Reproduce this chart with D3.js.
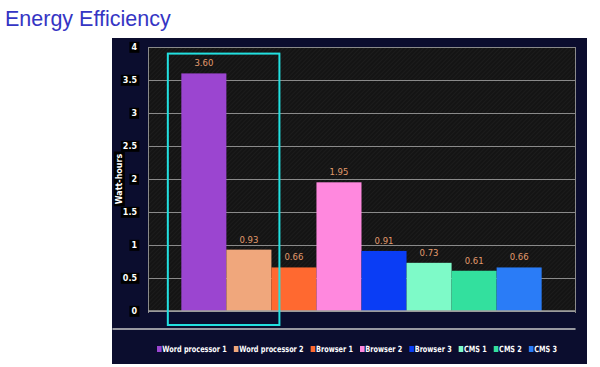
<!DOCTYPE html>
<html>
<head>
<meta charset="utf-8">
<script src="https://cdn.jsdelivr.net/npm/d3@7"></script>
<style>
  body { margin: 0; background: #fff; }
  svg { display: block; }
</style>
</head>
<body>
<div id="chart"></div>
<script>
// data
var categories = ["Word processor 1", "Word processor 2", "Browser 1", "Browser 2", "Browser 3", "CMS 1", "CMS 2", "CMS 3"];
var values = [3.60, 0.93, 0.66, 1.95, 0.91, 0.73, 0.61, 0.66];
var colors = ["#9b45d0", "#f0a77c", "#ff6930", "#ff88de", "#0a3df5", "#7efac8", "#33e09e", "#2a7cf7"];
var yTicks = [0, 0.5, 1, 1.5, 2, 2.5, 3, 3.5, 4];

var W = 600, H = 367;
var plot = {left: 148, right: 575, top: 47, bottom: 311};

var svg = d3.select("#chart").append("svg")
  .attr("width", W)
  .attr("height", H);

// title
svg.append("text")
  .attr("x", 5)
  .attr("y", 26)
  .style("font-family", "Liberation Sans, Arial, sans-serif")
  .style("font-size", "21.5px")
  .style("fill", "#3535c4")
  .text("Energy Efficiency");

// hatch pattern for plot background
var defs = svg.append("defs");
var pat = defs.append("pattern")
  .attr("id", "hatch")
  .attr("width", 3)
  .attr("height", 3)
  .attr("patternUnits", "userSpaceOnUse")
  .attr("patternTransform", "rotate(45)");
pat.append("rect").attr("width", 3).attr("height", 3).attr("fill", "#141414");
pat.append("line").attr("x1", 0).attr("y1", 0).attr("x2", 0).attr("y2", 3)
  .attr("stroke", "#232323").attr("stroke-width", 1);

// navy panel
svg.append("rect")
  .attr("x", 112)
  .attr("y", 38)
  .attr("width", 475)
  .attr("height", 326)
  .attr("fill", "#0b0d2e");

// scales
var x = d3.scaleBand()
  .domain(categories)
  .range([plot.left, plot.right])
  .paddingInner(0)
  .paddingOuter(0.74);

var y = d3.scaleLinear()
  .domain([0, 4])
  .range([plot.bottom, plot.top]);

// plot background
svg.append("rect")
  .attr("x", plot.left)
  .attr("y", plot.top)
  .attr("width", plot.right - plot.left)
  .attr("height", plot.bottom - plot.top)
  .attr("fill", "url(#hatch)");

// gridlines
svg.append("g")
  .attr("class", "grid")
  .attr("transform", "translate(" + plot.left + ",0)")
  .call(d3.axisLeft(y)
    .tickValues(yTicks)
    .tickSize(-(plot.right - plot.left))
    .tickFormat("")
  );
svg.selectAll(".grid line")
  .style("stroke", "#8a8a8a")
  .style("stroke-width", 1)
  .style("shape-rendering", "crispEdges");
svg.selectAll(".grid path").remove();

// frame lines (left and right)
svg.append("line")
  .attr("x1", plot.left).attr("x2", plot.left)
  .attr("y1", plot.top).attr("y2", plot.bottom + 2)
  .attr("stroke", "#8a8a8a").style("shape-rendering", "crispEdges");
svg.append("line")
  .attr("x1", plot.right).attr("x2", plot.right)
  .attr("y1", plot.top).attr("y2", plot.bottom + 2)
  .attr("stroke", "#8a8a8a").style("shape-rendering", "crispEdges");

// y tick labels in black boxes
var yLab = svg.append("g").selectAll("g")
  .data(yTicks)
  .enter().append("g")
  .attr("transform", function(d) { return "translate(137," + y(d) + ")"; });
yLab.append("text")
  .attr("text-anchor", "end")
  .attr("dy", "0.35em")
  .style("font-family", "DejaVu Sans, sans-serif")
  .style("font-weight", "bold")
  .style("font-size", "8px")
  .style("fill", "#ffffff")
  .text(function(d) { return d; });
yLab.each(function() {
  var g = d3.select(this);
  var bb = g.select("text").node().getBBox();
  g.insert("rect", "text")
    .attr("x", bb.x - 2)
    .attr("y", bb.y - 1)
    .attr("width", bb.width + 4)
    .attr("height", bb.height + 2)
    .attr("fill", "#000");
});

// y axis title
var yt = svg.append("g")
  .attr("transform", "translate(119," + y(2) + ") rotate(-90)");
yt.append("text")
  .attr("text-anchor", "middle")
  .attr("dy", "0.35em")
  .style("font-family", "DejaVu Sans, sans-serif")
  .style("font-weight", "bold")
  .style("font-size", "8px")
  .style("fill", "#ffffff")
  .text("Watt-hours");
var ybb = yt.select("text").node().getBBox();
yt.insert("rect", "text")
  .attr("x", ybb.x - 2).attr("y", ybb.y - 1)
  .attr("width", ybb.width + 4).attr("height", ybb.height + 2)
  .attr("fill", "#000");

// bars
svg.append("g").selectAll("rect")
  .data(values)
  .enter().append("rect")
  .attr("x", function(d, i) { return x(categories[i]); })
  .attr("y", function(d) { return y(d); })
  .attr("width", x.bandwidth())
  .attr("height", function(d) { return y(0) - y(d); })
  .attr("fill", function(d, i) { return colors[i]; });

// value labels
svg.append("g").selectAll("text")
  .data(values)
  .enter().append("text")
  .attr("x", function(d, i) { return x(categories[i]) + x.bandwidth() / 2; })
  .attr("y", function(d) { return y(d) - 7; })
  .attr("text-anchor", "middle")
  .style("font-family", "DejaVu Sans, sans-serif")
  .style("font-size", "8.5px")
  .style("fill", "#e29a6c")
  .text(function(d) { return d.toFixed(2); });

// axis line at zero
svg.append("line")
  .attr("x1", plot.left).attr("x2", plot.right)
  .attr("y1", y(0)).attr("y2", y(0))
  .attr("stroke", "#a0a0a0").attr("stroke-width", 1.5);

// highlight box around the word processors
svg.append("rect")
  .attr("x", x(categories[0]) - 13.5)
  .attr("y", y(3.9))
  .attr("width", x(categories[1]) + x.bandwidth() + 8 - (x(categories[0]) - 13.5))
  .attr("height", y(0) + 14 - y(3.9))
  .attr("fill", "none")
  .attr("stroke", "#22e0e0")
  .attr("stroke-width", 2);

// separator line
svg.append("line")
  .attr("x1", 113).attr("x2", plot.right)
  .attr("y1", 329).attr("y2", 329)
  .attr("stroke", "#c8c8c8").attr("stroke-width", 1.5)
  .attr("stroke-linecap", "round");

// legend (squeezed horizontally to fit the reference span)
var legend = svg.append("g");
var inner = legend.append("g");
var lx = 0;
categories.forEach(function(c, i) {
  var item = inner.append("g").attr("transform", "translate(" + lx + ",0)");
  item.append("rect")
    .attr("x", 0).attr("y", -6)
    .attr("width", 6).attr("height", 6)
    .attr("fill", colors[i]);
  var t = item.append("text")
    .attr("x", 7)
    .attr("y", 0)
    .style("font-family", "DejaVu Sans, sans-serif")
    .style("font-weight", "bold")
    .style("font-size", "8.5px")
    .style("fill", "#ffffff")
    .text(c);
  lx += 7 + t.node().getComputedTextLength() + 9;
});
var legendSpan = 400;
var k = legendSpan / (lx - 9);
legend.attr("transform", "translate(157,352) scale(" + k + ",1)");
</script>
</body>
</html>
